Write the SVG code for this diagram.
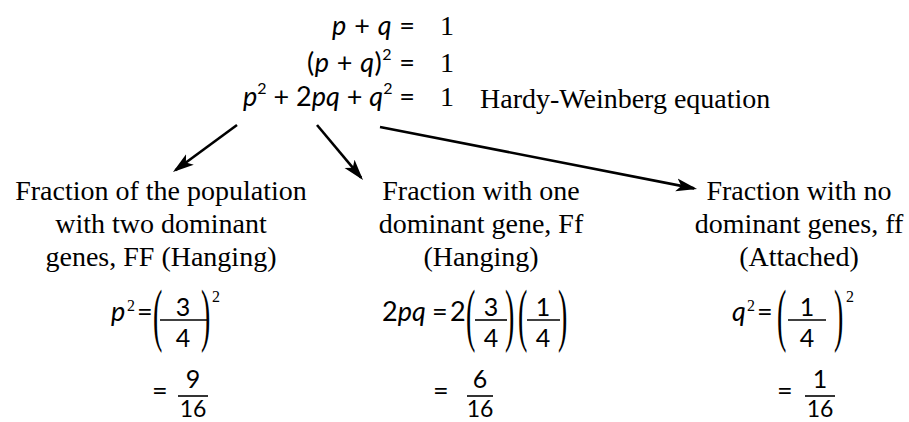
<svg xmlns="http://www.w3.org/2000/svg" width="909" height="422" viewBox="0 0 909 422">
<style>
.t{font-family:"Liberation Serif","Times New Roman",serif;font-size:28px;fill:#000}
.m{font-family:Lato,"Noto Sans",sans-serif;font-size:27px;fill:#000}
.f{font-family:Lato,"Noto Sans",sans-serif;font-size:25px;fill:#000;text-anchor:middle}
.d{font-family:Lato,"Noto Sans",sans-serif;font-size:23px;fill:#000;text-anchor:middle}
.v{font-style:italic}
.s{font-family:"Liberation Serif",serif;font-size:16px;fill:#000}
.c{text-anchor:middle}
.bar{stroke:#000;stroke-width:1.6}
.arr{stroke:#000;stroke-width:2.6;fill:none;marker-end:url(#ah)}
</style>
<defs>
<marker id="ah" markerUnits="userSpaceOnUse" markerWidth="24" markerHeight="16" refX="18" refY="7" orient="auto">
<path d="M0,0.5 L21,7 L0,13.5 L5,7 Z" fill="#000"/>
</marker>
</defs>
<rect width="909" height="422" fill="#fff"/>
<g id="equation">
<text class="m" x="332" y="35" textLength="83" lengthAdjust="spacing"><tspan class="v">p</tspan> + <tspan class="v">q</tspan> =</text>
<text class="t" x="440" y="35">1</text>
<text class="m" x="307" y="72" textLength="108" lengthAdjust="spacing">(<tspan class="v">p</tspan> + <tspan class="v">q</tspan>)<tspan font-size="16" dy="-12">2</tspan><tspan dy="12"> =</tspan></text>
<text class="t" x="440" y="72">1</text>
<text class="m" x="243" y="106" textLength="172" lengthAdjust="spacing"><tspan class="v">p</tspan><tspan font-size="16" dy="-12">2</tspan><tspan dy="12"> + 2</tspan><tspan class="v">pq</tspan> + <tspan class="v">q</tspan><tspan font-size="16" dy="-12">2</tspan><tspan dy="12"> =</tspan></text>
<text class="t" x="440" y="106">1</text>
<text class="t" x="480" y="108">Hardy-Weinberg equation</text>
</g>
<g id="connectors">
<line class="arr" x1="237" y1="125" x2="175.4" y2="170.2"/>
<line class="arr" x1="317" y1="125" x2="361.1" y2="177.7"/>
<line class="arr" x1="380" y1="127" x2="694.1" y2="188.4"/>
</g>
<g id="node-FF">
<text class="t c" x="161" y="200">Fraction of the population</text>
<text class="t c" x="161" y="233">with two dominant</text>
<text class="t c" x="161" y="266">genes, FF (Hanging)</text>
<text class="m v" x="111" y="321">p</text>
<text class="s" x="127" y="311">2</text>
<text class="m" x="137" y="321">=</text>
<text class="t" transform="translate(153,338) scale(1,2.5)">(</text>
<text class="f" x="183" y="316">3</text>
<line class="bar" x1="160" y1="320" x2="207" y2="320"/>
<text class="f" x="183" y="347">4</text>
<text class="t" transform="translate(201,338) scale(1,2.5)">)</text>
<text class="s" x="212" y="302">2</text>
<text class="m" x="152" y="400">=</text>
<text class="f" x="193" y="388">9</text>
<line class="bar" x1="178" y1="396" x2="208" y2="396"/>
<text class="d" x="193" y="417">16</text>
</g>
<g id="node-Ff">
<text class="t c" x="481" y="200">Fraction with one</text>
<text class="t c" x="481" y="233">dominant gene, Ff</text>
<text class="t c" x="481" y="266">(Hanging)</text>
<text class="m" x="382" y="321">2<tspan class="v">pq</tspan></text>
<text class="m" x="432" y="321">=</text>
<text class="m" x="450" y="321">2</text>
<text class="t" transform="translate(466,338) scale(1,2.5)">(</text>
<text class="f" x="491" y="316">3</text>
<line class="bar" x1="475" y1="320" x2="507" y2="320"/>
<text class="f" x="491" y="347">4</text>
<text class="t" transform="translate(505,338) scale(1,2.5)">)</text>
<text class="t" transform="translate(518,338) scale(1,2.5)">(</text>
<text class="f" x="543" y="316">1</text>
<line class="bar" x1="527" y1="320" x2="560" y2="320"/>
<text class="f" x="543" y="347">4</text>
<text class="t" transform="translate(558,338) scale(1,2.5)">)</text>
<text class="m" x="433" y="400">=</text>
<text class="f" x="480" y="388">6</text>
<line class="bar" x1="467" y1="396" x2="493" y2="396"/>
<text class="d" x="480" y="417">16</text>
</g>
<g id="node-ff">
<text class="t c" x="799" y="200">Fraction with no</text>
<text class="t c" x="799" y="233">dominant genes, ff</text>
<text class="t c" x="799" y="266">(Attached)</text>
<text class="m v" x="732" y="321">q</text>
<text class="s" x="747" y="311">2</text>
<text class="m" x="757" y="321">=</text>
<text class="t" transform="translate(777,338) scale(1,2.5)">(</text>
<text class="f" x="807" y="316">1</text>
<line class="bar" x1="788" y1="320" x2="826" y2="320"/>
<text class="f" x="807" y="347">4</text>
<text class="t" transform="translate(834,338) scale(1,2.5)">)</text>
<text class="s" x="846" y="302">2</text>
<text class="m" x="777" y="400">=</text>
<text class="f" x="820" y="388">1</text>
<line class="bar" x1="805" y1="396" x2="835" y2="396"/>
<text class="d" x="820" y="417">16</text>
</g>
</svg>
